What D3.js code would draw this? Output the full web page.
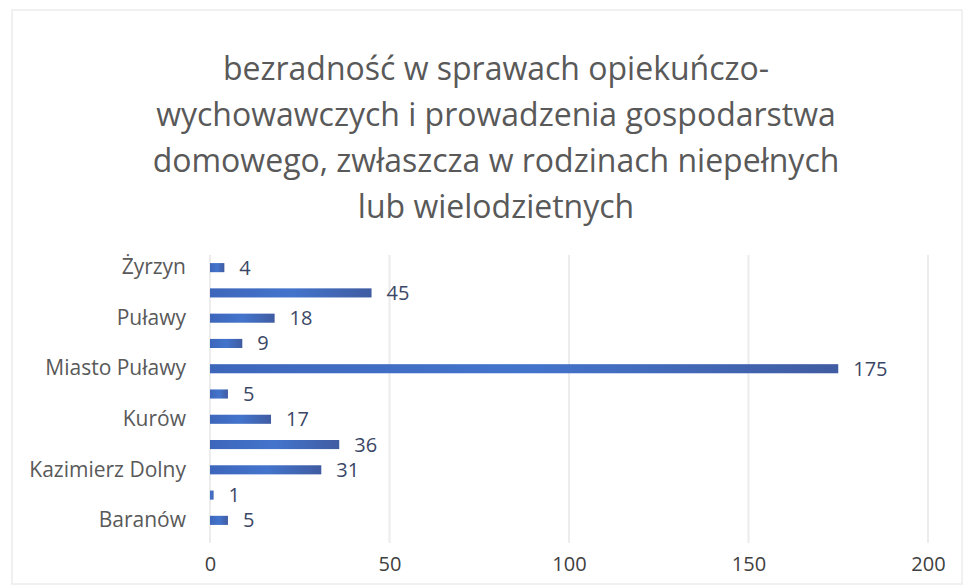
<!DOCTYPE html>
<html lang="pl">
<head>
<meta charset="UTF-8">
<title>bezradność w sprawach opiekuńczo-wychowawczych</title>
<script src="https://d3js.org/d3.v7.min.js"></script>
<style>
  body { margin: 0; background: #fff; font-family: "Open Sans", "Noto Sans", sans-serif; }
  svg { display: block; }
</style>
</head>
<body>
<svg width="963" height="588"></svg>
<script>
const categories = ["Baranów", "Janowiec", "Kazimierz Dolny", "Końskowola", "Kurów", "Markuszów",
                    "Miasto Puławy", "Nałęczów", "Puławy", "Wąwolnica", "Żyrzyn"];
const values = [5, 1, 31, 36, 17, 5, 175, 9, 18, 45, 4];
const xTicks = [0, 50, 100, 150, 200];
const titleLines = ["bezradność w sprawach opiekuńczo-",
                    "wychowawczych i prowadzenia gospodarstwa",
                    "domowego, zwłaszcza w rodzinach niepełnych",
                    "lub wielodzietnych"];

const width = 963, height = 588;
const margin = { left: 210, right: 35, top: 255, bottom: 55 };
const svg = d3.select("svg");

// faint chart frame
svg.append("rect")
    .attr("x", 12).attr("y", 10)
    .attr("width", width - 13).attr("height", 574)
    .attr("fill", "none").attr("stroke", "#ececec").attr("stroke-width", 1.5);

// title
svg.append("text")
    .attr("text-anchor", "middle")
    .attr("fill", "#595959")
    .style("font-size", "32px")
    .selectAll("tspan")
    .data(titleLines)
    .join("tspan")
    .attr("x", 496)
    .attr("y", (d, i) => 80 + i * 46)
    .text(d => d);

const x = d3.scaleLinear().domain([0, 200]).range([margin.left, width - margin.right]);
const y = d3.scaleBand()
    .domain(categories.slice().reverse())
    .range([margin.top, height - margin.bottom])
    .paddingInner(0.64)
    .paddingOuter(0.32);

// gridlines
svg.append("g")
    .selectAll("line")
    .data(xTicks)
    .join("line")
    .attr("x1", d => x(d)).attr("x2", d => x(d))
    .attr("y1", margin.top).attr("y2", 543)
    .attr("stroke", "#ececec")
    .attr("stroke-width", 2);

// tick labels
const xAxis = d3.axisBottom(x).tickValues(xTicks).tickSize(0).tickPadding(0);
const gx = svg.append("g")
    .attr("transform", "translate(0,564)")
    .call(xAxis);
gx.select(".domain").remove();
gx.selectAll("text")
    .attr("dy", "0.35em")
    .attr("fill", "#404040")
    .style("font-size", "20px")
    .style("font-family", "'Open Sans', sans-serif");

// gradient for bars
const grad = svg.append("defs").append("linearGradient")
    .attr("id", "barGrad").attr("x1", "0").attr("x2", "1").attr("y1", "0").attr("y2", "0");
grad.append("stop").attr("offset", "0%").attr("stop-color", "#3d66bb");
grad.append("stop").attr("offset", "50%").attr("stop-color", "#4374cc");
grad.append("stop").attr("offset", "100%").attr("stop-color", "#405ca2");

// bars
svg.append("g")
    .selectAll("rect")
    .data(values)
    .join("rect")
    .attr("x", x(0))
    .attr("y", (d, i) => y(categories[i]))
    .attr("width", d => x(d) - x(0))
    .attr("height", y.bandwidth())
    .attr("fill", "url(#barGrad)");

// value labels
svg.append("g")
    .selectAll("text")
    .data(values)
    .join("text")
    .attr("x", d => x(d) + 15)
    .attr("y", (d, i) => y(categories[i]) + y.bandwidth() / 2)
    .attr("dy", "0.35em")
    .attr("fill", "#3b4766")
    .style("font-size", "20px")
    .text(d => d);

// category labels (every other, like the original)
const yAxis = d3.axisLeft(y).tickSize(0).tickPadding(0)
    .tickFormat((d, i) => i % 2 === 0 ? d : "");
const gy = svg.append("g")
    .attr("transform", `translate(${margin.left - 24},0)`)
    .call(yAxis);
gy.select(".domain").remove();
gy.selectAll("text")
    .attr("fill", "#595959")
    .style("font-size", "21px")
    .style("font-family", "'Open Sans', sans-serif");
</script>
</body>
</html>
